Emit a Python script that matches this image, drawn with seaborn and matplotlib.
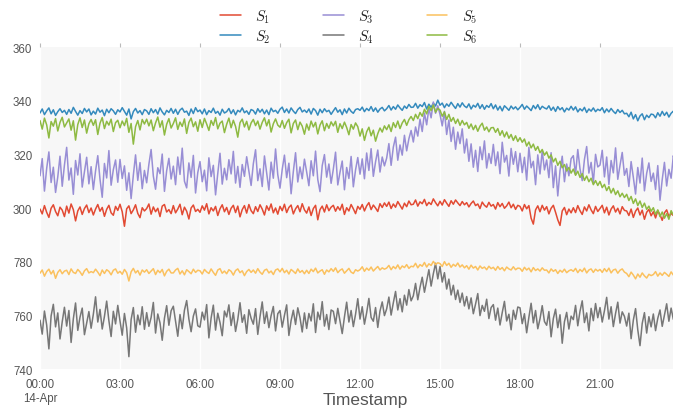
##
# Six sensor readings over one day (5 minute samples), ggplot-like colours
##

import pandas as pd
import matplotlib

matplotlib.use("Agg")
import matplotlib.pyplot as plt
import matplotlib.dates as mdates
from matplotlib.ticker import FuncFormatter
import seaborn as sns

# Readings, 12 per hour (one row per hour), 00:00 -> 23:55
s1 = [
    799.6, 797.8, 800.9, 798.4, 796.5, 799.9, 801.2, 798.7, 797.1, 800.3, 799.2, 796.8,
    800.7, 798.1, 801.5, 799.4, 795.2, 798.9, 800.4, 797.6, 799.8, 801.1, 798.3, 800.0,
    797.4, 799.6, 801.3, 798.8, 800.2, 796.9, 799.5, 801.0, 798.2, 797.3, 800.6, 799.1,
    801.4, 798.6, 793.2, 799.7, 800.8, 797.9, 799.3, 801.2, 798.0, 796.4, 800.1, 798.9,
    799.8, 801.5, 797.7, 800.4, 798.6, 799.9, 796.8, 800.7, 801.3, 798.5, 799.4, 797.9,
    800.9, 798.2, 799.6, 801.4, 797.5, 800.3, 798.8, 795.9, 800.0, 801.1, 798.7, 799.5,
    798.4, 800.8, 799.2, 801.6, 797.8, 800.1, 798.9, 800.6, 797.2, 799.7, 801.2, 798.6,
    800.2, 797.6, 799.9, 801.0, 798.3, 800.7, 796.7, 799.4, 800.9, 798.1, 801.3, 799.0,
    797.9, 800.5, 798.7, 801.2, 799.6, 797.4, 800.8, 799.1, 801.5, 798.2, 800.0, 797.7,
    800.6, 799.0, 801.4, 798.3, 800.2, 801.1, 797.8, 799.7, 800.9, 798.6, 801.6, 799.3,
    798.1, 800.4, 797.2, 799.8, 801.0, 795.6, 799.4, 800.7, 798.5, 801.2, 799.0, 800.3,
    801.0, 798.8, 800.5, 799.2, 801.4, 797.6, 800.1, 798.9, 801.3, 799.7, 797.9, 800.6,
    799.5, 801.3, 798.9, 800.8, 802.0, 799.4, 801.1, 800.0, 798.7, 801.6, 800.2, 801.9,
    800.6, 802.2, 799.8, 801.5, 800.3, 802.4, 801.0, 799.6, 801.8, 800.5, 802.6, 801.2,
    801.4, 803.0, 800.7, 802.3, 801.6, 803.2, 800.9, 802.1, 801.3, 803.4, 802.0, 800.8,
    802.5, 801.1, 803.1, 801.8, 800.6, 802.7, 801.4, 803.0, 801.9, 800.9, 802.4, 801.2,
    802.0, 800.4, 801.7, 802.6, 800.9, 801.5, 799.8, 802.2, 801.0, 800.3, 802.1, 800.7,
    801.3, 799.6, 802.0, 800.5, 801.7, 799.9, 800.8, 802.2, 800.1, 801.4, 799.5, 801.0,
    800.6, 798.9, 801.3, 799.7, 800.9, 796.2, 794.0, 799.3, 800.8, 798.6, 801.0, 799.2,
    800.5, 797.8, 799.9, 801.0, 798.4, 795.6, 793.5, 798.9, 800.2, 797.5, 799.6, 798.2,
    800.1, 798.3, 800.9, 799.0, 797.6, 800.4, 798.9, 801.2, 799.3, 797.9, 800.6, 798.7,
    799.8, 801.0, 798.2, 800.3, 797.4, 799.6, 800.8, 798.5, 799.9, 797.8, 800.5, 799.1,
    798.9, 797.2, 799.6, 796.5, 798.8, 800.0, 797.4, 799.2, 795.8, 798.4, 799.5, 797.1,
    798.6, 796.3, 799.0, 797.5, 795.4, 798.2, 799.3, 796.8, 798.0, 797.2, 799.1, 798.3,
]
s2 = [
    835.4, 836.9, 834.8, 836.2, 837.3, 835.1, 836.6, 834.5, 835.9, 837.0, 835.6, 836.4,
    834.9, 836.7, 835.3, 837.5, 836.0, 834.6, 836.3, 835.2, 837.1, 835.8, 836.9, 834.7,
    836.1, 835.0, 837.2, 835.7, 836.5, 834.4, 836.8, 835.5, 837.0, 836.2, 834.9, 836.6,
    835.8, 837.4, 836.0, 834.6, 836.9, 833.2, 835.9, 837.1, 835.4, 836.3, 834.8, 836.7,
    836.2, 834.9, 837.0, 835.5, 836.7, 835.0, 837.3, 835.8, 834.7, 836.4, 835.6, 837.1,
    835.3, 836.8, 834.9, 836.5, 837.2, 835.7, 836.1, 834.5, 836.9, 835.2, 837.4, 835.9,
    836.5, 835.1, 836.9, 834.8, 836.3, 835.6, 837.2, 835.3, 836.0, 834.6, 836.8, 835.4,
    835.9, 837.1, 835.2, 836.6, 834.7, 836.4, 835.8, 837.3, 835.5, 836.2, 834.9, 836.7,
    836.3, 835.0, 837.0, 835.7, 836.8, 835.1, 836.5, 834.8, 837.2, 835.9, 836.4, 835.3,
    836.8, 837.6, 835.6, 836.9, 835.4, 837.3, 836.1, 835.2, 836.7, 837.5, 835.8, 836.5,
    835.6, 836.9, 835.0, 837.1, 836.3, 834.6, 836.8, 835.5, 837.0, 835.9, 836.4, 834.9,
    836.2, 837.4, 835.7, 836.6, 834.8, 836.9, 835.4, 837.2, 836.0, 835.3, 836.7, 837.0,
    836.4, 837.6, 835.9, 837.1, 836.3, 837.8, 836.0, 837.3, 835.7, 836.9, 837.5, 836.2,
    837.0, 838.2, 836.5, 837.8, 836.8, 838.4, 837.3, 836.4, 838.0, 837.1, 838.6, 837.5,
    837.6, 839.0, 837.2, 838.5, 837.8, 839.3, 836.9, 838.7, 837.5, 839.1, 838.0, 840.2,
    838.3, 839.1, 837.4, 838.8, 837.9, 839.4, 838.2, 837.1, 838.9, 837.6, 839.2, 838.0,
    837.4, 838.8, 836.9, 838.3, 837.6, 839.0, 837.1, 838.5, 836.8, 838.2, 837.5, 838.9,
    837.0, 838.4, 836.5, 837.9, 836.2, 838.1, 837.3, 836.4, 838.0, 836.9, 837.7, 836.6,
    837.5, 838.6, 836.8, 838.0, 837.2, 836.3, 838.2, 837.0, 838.5, 836.7, 837.9, 837.3,
    836.9, 838.1, 836.4, 837.6, 836.0, 837.8, 836.6, 837.4, 835.8, 837.2, 836.5, 837.9,
    836.5, 837.7, 835.8, 837.0, 836.2, 837.5, 835.6, 836.9, 836.1, 837.3, 835.9, 836.8,
    836.3, 837.4, 835.5, 836.9, 835.8, 837.1, 836.0, 835.2, 836.7, 835.6, 836.4, 835.1,
    835.3, 834.0, 835.7, 833.2, 834.8, 832.5, 834.3, 835.1, 832.9, 834.6, 833.7, 835.0,
    834.8, 833.6, 835.5, 834.2, 836.0, 834.5, 835.7, 833.9, 835.3, 836.1, 834.9, 835.6,
]
s3 = [
    812.0, 818.4, 806.3, 814.7, 820.9, 809.5, 815.2, 805.8, 811.6, 819.3, 808.1, 816.0,
    822.6, 810.4, 814.9, 805.1, 817.7, 812.3, 820.2, 807.8, 813.5, 818.9, 809.0, 815.4,
    806.9, 813.8, 819.5, 810.7, 804.0, 816.6, 811.2, 821.4, 808.5, 814.3, 817.9, 809.6,
    818.1, 811.0, 815.7, 806.6, 813.1, 803.5, 812.2, 819.8, 810.3, 816.9, 807.2, 814.0,
    809.4, 816.3, 821.8, 811.9, 807.0, 815.0, 812.8, 820.1, 806.2, 813.9, 818.5, 810.8,
    815.6, 808.7, 819.0, 812.5, 822.3, 810.0, 807.5, 816.8, 811.4, 819.6, 805.6, 813.2,
    817.3, 809.8, 814.1, 806.4, 818.7, 811.7, 815.9, 804.9, 812.9, 820.4, 808.9, 814.8,
    810.5, 818.0, 812.7, 821.1, 809.3, 815.5, 807.7, 816.2, 811.8, 819.1, 813.7, 808.4,
    816.5, 821.7, 810.2, 814.6, 808.0, 819.4, 813.0, 806.7, 817.1, 811.1, 822.0, 812.4,
    807.4, 814.4, 819.7, 811.3, 816.7, 805.3, 813.6, 820.6, 809.7, 815.3, 810.9, 818.2,
    813.4, 808.3, 817.6, 812.0, 821.2, 810.6, 806.1, 815.8, 819.9, 811.5, 816.4, 809.2,
    814.5, 820.8, 808.6, 813.3, 817.5, 806.8, 815.1, 811.0, 819.2, 807.9, 814.2, 818.8,
    812.6, 818.3, 810.9, 820.5, 814.0, 822.1, 811.8, 817.2, 821.6, 813.4, 819.0, 815.7,
    818.6, 824.0, 815.9, 822.7, 826.4, 817.8, 823.5, 819.7, 827.1, 821.3, 825.8, 828.9,
    824.6, 830.2, 826.8, 833.1, 828.5, 835.4, 831.0, 837.2, 833.6, 839.5, 835.3, 838.1,
    834.9, 830.6, 836.0, 827.4, 832.8, 824.8, 830.1, 821.9, 828.3, 824.0, 829.5, 820.5,
    825.7, 817.4, 823.9, 815.2, 821.5, 813.6, 822.8, 818.0, 825.0, 814.9, 820.3, 816.6,
    823.7, 815.8, 820.9, 812.8, 824.5, 817.1, 819.6, 811.9, 822.2, 816.3, 821.0, 813.5,
    820.4, 813.2, 818.9, 810.4, 822.6, 815.0, 817.4, 808.7, 819.8, 812.7, 821.3, 814.2,
    817.9, 811.3, 820.6, 807.6, 815.7, 804.5, 813.9, 819.3, 809.8, 816.4, 812.0, 818.4,
    819.5, 812.4, 821.8, 814.6, 810.2, 818.1, 822.9, 813.0, 817.0, 809.5, 820.0, 815.3,
    816.0, 821.5, 811.6, 819.0, 808.8, 817.7, 813.1, 822.4, 810.7, 815.9, 820.7, 812.2,
    814.7, 808.0, 817.3, 811.4, 805.2, 815.1, 809.3, 818.6, 806.4, 812.9, 816.8, 809.9,
    813.0, 806.9, 815.8, 802.9, 810.6, 817.0, 808.2, 814.4, 811.1, 819.5, 815.6, 821.1,
]
s4 = [
    758.2, 753.0, 761.6, 756.4, 747.5, 759.8, 764.1, 755.7, 760.9, 751.2, 757.6, 763.0,
    756.0, 761.8, 749.9, 758.7, 764.6, 754.4, 759.3, 762.7, 752.8, 757.1, 761.4, 755.2,
    760.4, 766.9, 757.5, 762.2, 754.9, 759.6, 765.3, 758.0, 752.1, 761.5, 756.8, 763.7,
    757.9, 752.6, 760.7, 755.3, 744.6, 758.4, 762.9, 753.7, 760.1, 756.5, 763.2, 754.8,
    761.0, 755.9, 759.2, 764.8, 753.4, 760.5, 757.2, 750.7, 758.9, 763.6, 756.3, 761.7,
    763.4, 757.8, 752.2, 760.3, 755.0, 761.9, 765.5, 758.6, 753.9, 759.7, 762.4, 756.1,
    755.6, 761.2, 758.3, 764.0, 751.6, 759.0, 763.8, 754.5, 760.8, 757.3, 752.4, 761.6,
    759.4, 763.9, 756.2, 761.0, 754.0, 758.5, 764.7, 757.4, 760.2, 753.3, 762.1, 758.9,
    756.7, 762.5, 752.9, 759.5, 765.0, 757.0, 761.3, 755.4, 759.9, 763.3, 754.2, 760.6,
    761.8, 755.6, 760.0, 763.9, 752.5, 758.1, 761.9, 756.6, 762.8, 759.1, 753.8, 760.9,
    755.1, 760.7, 757.9, 764.3, 753.6, 761.2, 758.4, 765.1, 756.0, 760.3, 754.7, 762.0,
    761.5, 756.9, 762.6, 758.0, 753.2, 759.4, 764.9, 757.5, 761.8, 755.8, 760.4, 766.2,
    758.6, 763.2, 756.7, 761.0, 766.3, 759.2, 757.8, 762.9, 755.5, 761.6, 765.0, 759.9,
    762.4, 766.8, 760.1, 764.7, 768.9, 762.0, 766.2, 761.3, 767.5, 763.8, 769.6, 765.4,
    767.3, 771.9, 765.8, 770.4, 774.2, 768.6, 772.8, 777.0, 770.9, 775.5, 779.4, 773.6,
    778.2, 772.4, 775.9, 769.8, 773.5, 767.6, 771.2, 765.9, 769.4, 764.8, 768.3, 763.5,
    767.0, 762.4, 766.5, 760.6, 764.2, 768.1, 759.9, 763.7, 761.5, 766.0, 758.8, 762.9,
    764.0, 758.2, 762.7, 756.4, 761.0, 765.2, 757.9, 760.4, 754.6, 761.9, 758.5, 763.1,
    762.8, 756.9, 760.6, 753.5, 759.3, 764.5, 757.2, 761.8, 755.0, 758.7, 763.6, 757.7,
    756.3, 761.4, 752.0, 758.8, 762.3, 755.4, 760.2, 749.6, 757.6, 761.1, 754.9, 759.7,
    758.4, 763.7, 756.1, 761.5, 765.4, 757.3, 760.9, 754.2, 762.6, 758.0, 764.4, 759.1,
    762.9, 757.5, 761.7, 766.7, 758.6, 763.2, 755.8, 760.7, 764.9, 757.1, 761.3, 759.6,
    756.0, 760.8, 751.3, 758.2, 762.5, 754.6, 748.7, 757.0, 761.0, 753.4, 759.5, 755.7,
    760.5, 754.3, 758.9, 762.0, 755.9, 760.1, 764.3, 757.8, 762.7, 758.5, 765.8, 768.0,
]
s5 = [
    775.7, 776.9, 774.6, 776.3, 777.2, 775.4, 776.7, 773.8, 776.0, 777.0, 775.5, 776.5,
    776.8, 775.2, 777.3, 776.0, 775.6, 777.1, 776.2, 774.9, 776.6, 777.4, 775.8, 776.3,
    775.9, 777.2, 776.1, 774.8, 776.9, 775.6, 777.0, 776.4, 775.1, 776.8, 777.3, 775.7,
    776.4, 775.3, 777.1, 775.9, 772.8, 776.2, 777.5, 775.8, 776.7, 775.0, 776.9, 776.1,
    777.0, 775.6, 776.5, 777.4, 775.2, 776.8, 775.9, 777.1, 774.7, 776.4, 777.2, 775.8,
    775.8, 776.9, 777.5, 775.4, 776.6, 775.1, 777.0, 776.3, 775.5, 777.2, 776.0, 776.8,
    776.6, 775.4, 777.1, 776.2, 775.6, 777.3, 776.0, 774.9, 776.9, 777.4, 775.7, 776.5,
    775.5, 777.0, 776.4, 775.0, 776.7, 777.3, 775.9, 776.6, 774.8, 776.3, 777.1, 776.0,
    776.9, 775.7, 777.4, 776.1, 775.3, 776.8, 777.2, 775.8, 776.5, 775.2, 776.9, 777.3,
    776.2, 777.5, 775.9, 776.8, 775.4, 777.1, 776.4, 775.6, 777.3, 776.0, 776.7, 775.5,
    776.8, 775.6, 777.2, 776.3, 777.6, 775.8, 776.5, 777.0, 775.3, 776.9, 776.2, 777.4,
    776.4, 777.7, 775.9, 776.8, 777.3, 775.7, 776.6, 777.5, 776.1, 775.6, 777.0, 776.5,
    777.0, 778.1, 776.4, 777.6, 776.8, 778.0, 776.5, 777.4, 778.2, 776.9, 777.7, 777.2,
    777.6, 778.6, 777.0, 778.2, 777.4, 778.8, 777.2, 778.4, 777.8, 778.9, 777.5, 778.3,
    778.1, 779.4, 777.7, 778.9, 778.3, 779.7, 778.0, 779.2, 778.6, 780.1, 778.9, 779.6,
    779.3, 778.2, 780.0, 778.6, 779.4, 777.9, 779.0, 778.3, 779.5, 778.0, 778.8, 777.7,
    778.5, 777.2, 778.7, 777.6, 778.2, 776.9, 778.4, 777.5, 778.0, 777.0, 778.3, 777.4,
    777.9, 776.8, 778.2, 777.1, 777.8, 776.6, 778.0, 777.3, 776.9, 778.1, 777.0, 777.6,
    777.5, 776.4, 777.9, 776.9, 777.6, 776.2, 777.8, 776.7, 777.3, 776.5, 777.7, 776.8,
    776.9, 775.8, 777.3, 776.4, 777.0, 775.6, 776.8, 776.1, 777.2, 775.9, 776.6, 777.0,
    776.4, 777.5, 775.9, 777.1, 776.3, 777.6, 775.8, 776.9, 777.3, 776.0, 777.2, 776.5,
    777.1, 776.0, 777.4, 776.3, 777.6, 775.8, 776.9, 777.2, 775.7, 776.8, 777.3, 776.1,
    775.6, 774.4, 776.1, 775.0, 773.6, 775.4, 774.2, 775.8, 774.7, 773.9, 775.3, 774.8,
    775.2, 776.3, 774.6, 775.8, 774.9, 776.0, 775.3, 774.5, 776.2, 775.0, 775.7, 776.4,
]
s6 = [
    832.6, 829.4, 833.5, 831.0, 826.1, 832.2, 830.5, 833.3, 828.7, 831.9, 833.8, 830.2,
    831.7, 833.2, 829.0, 832.5, 825.3, 831.1, 833.6, 830.0, 832.8, 827.9, 831.4, 833.0,
    830.8, 832.9, 827.4, 831.6, 833.7, 829.6, 832.3, 830.9, 833.1, 828.5, 831.8, 832.7,
    829.9, 832.4, 830.7, 833.4, 828.2, 831.5, 823.8, 830.3, 832.6, 829.1, 833.0, 831.3,
    833.1, 830.6, 832.8, 828.8, 831.7, 833.9, 830.1, 832.5, 827.2, 831.2, 833.3, 829.8,
    831.5, 833.6, 829.3, 832.0, 830.4, 833.2, 827.8, 831.9, 833.5, 830.3, 832.1, 828.6,
    832.9, 830.0, 833.4, 831.3, 828.9, 832.6, 830.8, 833.7, 829.5, 831.6, 832.4, 828.1,
    831.2, 833.5, 829.9, 832.7, 830.4, 826.4, 831.8, 833.1, 830.2, 832.3, 829.1, 831.7,
    833.0, 830.7, 832.4, 829.4, 831.9, 833.6, 830.6, 832.9, 828.3, 831.4, 833.2, 830.9,
    830.1, 832.6, 829.7, 831.8, 833.1, 828.0, 831.5, 832.8, 829.2, 832.0, 830.5, 827.5,
    831.3, 829.0, 832.4, 830.2, 831.9, 827.6, 830.9, 832.5, 828.8, 831.5, 829.7, 832.1,
    830.6, 832.3, 828.2, 831.4, 829.6, 832.0, 830.0, 827.3, 831.1, 829.4, 831.7, 830.3,
    826.8, 829.5, 825.2, 828.4, 830.1, 826.9, 829.0, 824.9, 827.7, 829.8, 828.3, 830.6,
    829.2, 831.0, 828.5, 831.8, 830.0, 832.4, 829.6, 831.7, 833.0, 830.8, 832.9, 834.1,
    832.6, 834.9, 833.3, 835.6, 834.2, 836.8, 835.1, 837.9, 836.3, 838.4, 835.7, 837.1,
    836.5, 834.2, 835.8, 833.0, 834.9, 832.3, 833.7, 831.5, 833.1, 830.8, 832.6, 831.0,
    831.9, 829.7, 831.3, 829.2, 830.8, 828.6, 830.5, 831.6, 829.0, 830.2, 828.4, 829.9,
    830.0, 828.2, 829.6, 827.1, 828.8, 826.5, 828.3, 826.0, 827.4, 825.2, 826.9, 824.8,
    826.2, 824.5, 825.7, 823.1, 824.6, 822.4, 823.8, 821.5, 822.9, 820.6, 821.8, 819.7,
    820.9, 818.6, 819.8, 817.2, 818.5, 815.9, 817.4, 815.0, 816.2, 813.8, 815.1, 813.0,
    814.5, 812.2, 813.7, 811.4, 812.8, 810.3, 811.9, 809.8, 811.1, 808.7, 810.2, 808.4,
    809.9, 807.6, 808.8, 806.5, 808.0, 805.6, 807.3, 805.0, 806.4, 804.2, 805.5, 803.9,
    805.1, 802.8, 804.3, 801.7, 803.4, 800.9, 802.6, 800.2, 801.8, 799.5, 800.7, 798.8,
    800.1, 797.6, 799.3, 796.8, 798.5, 796.2, 797.9, 795.8, 799.0, 797.4, 800.2, 801.6,
]

sensor_names = ["$S_1$", "$S_2$", "$S_3$", "$S_4$", "$S_5$", "$S_6$"]
colors = ["#E24A33", "#348ABD", "#988ED5", "#777777", "#FBC15E", "#8EBA42"]

y_ticks = [740, 760, 780, 800, 820, 840, 860]
y_tick_labels = ["740", "760", "780", "300", "320", "340", "360"]

# Build long form DataFrame
timestamps = pd.date_range("2017-04-14 00:00", periods=len(s1), freq="5min")
frames = []
for name, values in zip(sensor_names, [s1, s2, s3, s4, s5, s6]):
    frames.append(pd.DataFrame({"Timestamp": timestamps, "value": values, "sensor": name}))
df = pd.concat(frames, ignore_index=True)

# Style
sns.set_style("white", {"axes.facecolor": "#F7F7F7"})
plt.rcParams["font.family"] = ["Liberation Sans", "DejaVu Sans"]
plt.rcParams["mathtext.fontset"] = "cm"

fig = plt.figure(figsize=(6.73, 4.10), dpi=100)
ax = fig.add_axes([40 / 673, 1 - 370 / 410, 640 / 673, 322 / 410])

sns.lineplot(
    data=df,
    x="Timestamp",
    y="value",
    hue="sensor",
    hue_order=sensor_names,
    palette=colors,
    linewidth=1.1,
    ax=ax,
)

# Axes limits and ticks (every 3 hours, 00:00 -> 21:00)
start = timestamps[0]
ax.set_xlim(start, start + pd.Timedelta(hours=24))
ax.set_ylim(740, 860)
ax.set_yticks(y_ticks)
ax.set_yticklabels(y_tick_labels)
ax.set_xticks(timestamps[::36])


def time_label(x, pos):
    t = mdates.num2date(x)
    if t.hour == 0:
        return t.strftime("%H:%M") + "\n" + t.strftime("%d-%b")
    return t.strftime("%H:%M")


ax.xaxis.set_major_formatter(FuncFormatter(time_label))

ax.tick_params(
    axis="both", direction="out", length=3, width=0.8, color="#bbbbbb",
    labelcolor="#555555", labelsize=8.3, top=True, right=True,
)
ax.tick_params(axis="x", pad=3.5)
ax.tick_params(axis="y", pad=2.5)

for spine in ax.spines.values():
    spine.set_visible(False)

ax.grid(axis="x", color="white", linewidth=1.0)
ax.grid(axis="y", visible=False)

ax.set_ylabel("")
ax.set_xlabel("Timestamp", fontsize=12.5, color="#555555")
ax.xaxis.set_label_coords(0.509, -0.07)

# Legend above the plot, 3 columns
handles, labels = ax.get_legend_handles_labels()
ax.get_legend().remove()
fig.legend(
    handles, labels, ncol=3, loc="center", bbox_to_anchor=(0.518, 0.934),
    frameon=False, fontsize=10.5, handlelength=1.4, handletextpad=1.0,
    columnspacing=3.6, labelspacing=0.15,
)

plt.savefig("out.png", dpi=100)
